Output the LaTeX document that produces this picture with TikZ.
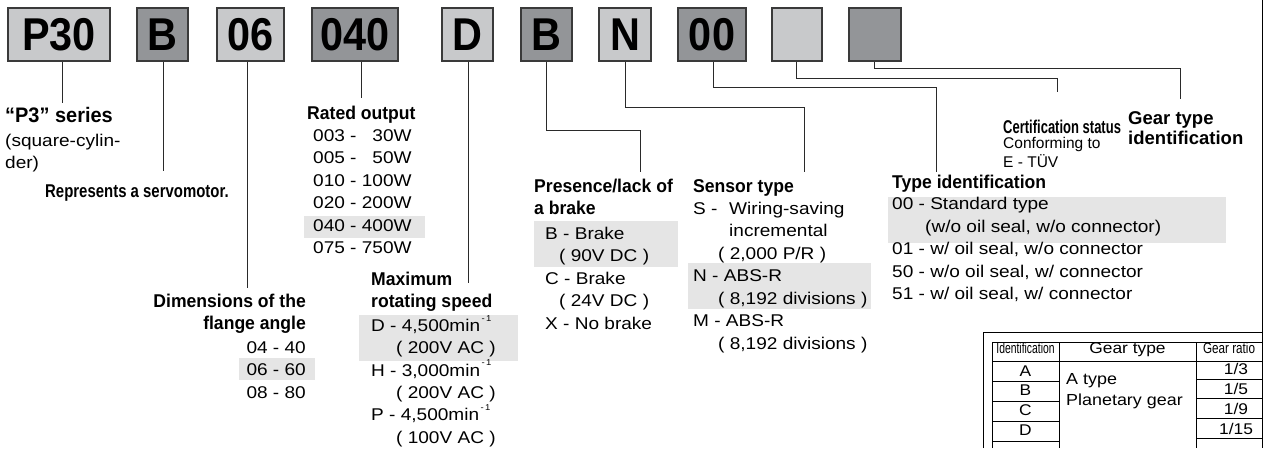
\documentclass[tikz,border=0pt]{standalone}
\usepackage{fontspec}
\usepackage{graphicx}
\setmainfont{Liberation Sans}
\newfontfamily\bodyff{Liberation Sans}[FakeStretch=1.12]
\newfontfamily\headff{Liberation Sans}[FakeStretch=0.95]
\newfontfamily\boxff{Liberation Sans}[FakeStretch=0.9]
\newfontfamily\idff{Liberation Sans}[FakeStretch=0.69]
\newfontfamily\ratff{Liberation Sans}[FakeStretch=0.78]
\newfontfamily\plainff{Liberation Sans}
\definecolor{lightbox}{HTML}{C8C9CB}
\definecolor{darkbox}{HTML}{939598}
\definecolor{boxline}{HTML}{3A3A3A}
\definecolor{hlgray}{HTML}{E5E5E5}
\definecolor{connline}{HTML}{2A2A2A}
\newcommand\minsup{min\raisebox{0.6em}{\fontsize{8.5}{8.5}\selectfont\,-\,1}}
\tikzset{
  codebox/.style={draw=boxline, line width=1.1pt, inner sep=0pt, minimum height=53pt,
    font=\boxff\bfseries\fontsize{46}{46}\selectfont},
  lightfill/.style={fill=lightbox},
  darkfill/.style={fill=darkbox},
  body/.style={anchor=base west, inner sep=0pt, font=\bodyff\fontsize{17}{20}\selectfont},
  bodyr/.style={body, anchor=base east},
  head/.style={anchor=base west, inner sep=0pt, font=\headff\bfseries\fontsize{18.5}{22}\selectfont},
  headr/.style={head, anchor=base east},
  hl/.style={fill=hlgray, draw=none},
  conn/.style={draw=connline, line width=0.9pt},
  frameline/.style={draw=black, line width=0.9pt},
  tabline/.style={draw=black, line width=0.8pt},
  tabtext/.style={inner sep=0pt, anchor=base, font=\bodyff\fontsize{15.5}{18}\selectfont},
}
\begin{document}
\begin{tikzpicture}[x=1pt,y=-1pt]
\useasboundingbox (0,0) rectangle (1263,448);

% highlights
\path[hl] (304,216) rectangle (425,238);
\path[hl] (239,358) rectangle (315,380);
\path[hl] (359,315) rectangle (518,361);
\path[hl] (534,221) rectangle (678,267);
\path[hl] (688,263) rectangle (871,309);
\path[hl] (888,197) rectangle (1226,243);

% code boxes
\node[codebox, lightfill, minimum width=102pt] (p30) at (59,34.5) {P30};
\node[codebox, darkfill, minimum width=51pt] (bsv) at (162.5,34.5) {B};
\node[codebox, lightfill, minimum width=67pt] (dim) at (250.5,34.5) {06};
\node[codebox, darkfill, minimum width=86pt] (out) at (355,34.5) {040};
\node[codebox, lightfill, minimum width=51pt] (spd) at (467.5,34.5) {D};
\node[codebox, darkfill, minimum width=51pt] (brk) at (546.5,34.5) {B};
\node[codebox, lightfill, minimum width=52pt] (sen) at (625,34.5) {N};
\node[codebox, darkfill, minimum width=68pt] (typ) at (712,34.5) {00};
\node[codebox, lightfill, minimum width=50pt] (cer) at (797,34.5) {};
\node[codebox, darkfill, minimum width=52pt] (gear) at (875,34.5) {};

% connector end points
\coordinate (e1) at (62,103);
\coordinate (e2) at (163,171);
\coordinate (e3) at (247,288);
\coordinate (e4) at (361,98);
\coordinate (e5) at (468,283);
\coordinate (k6) at (546,130);
\coordinate (e6) at (640,172);
\coordinate (k7) at (625,107);
\coordinate (e7) at (804,172);
\coordinate (k8) at (713,87);
\coordinate (e8) at (936,172);
\coordinate (k9) at (796,78);
\coordinate (e9) at (1057,92);
\coordinate (k10) at (874,68);
\coordinate (e10) at (1180,99);

\draw[conn] (p30.south -| e1) -- (e1);
\draw[conn] (bsv.south -| e2) -- (e2);
\draw[conn] (dim.south -| e3) -- (e3);
\draw[conn] (out.south -| e4) -- (e4);
\draw[conn] (spd.south -| e5) -- (e5);
\draw[conn] (brk.south -| k6) -- (k6) -| (e6);
\draw[conn] (sen.south -| k7) -- (k7) -| (e7);
\draw[conn] (typ.south -| k8) -- (k8) -| (e8);
\draw[conn] (cer.south -| k9) -- (k9) -| (e9);
\draw[conn] (gear.south -| k10) -- (k10) -| (e10);

% P3 series
\node[head, font=\headff\bfseries\fontsize{21}{24}\selectfont] (h1) at (5,122) {“P3” series};
\node[body] (t11) at (5,146) {(square-cylin-};
\node[body] (t12) at (5,168) {der)};

% servomotor
\node[head] (h2) at (45,197) {\scalebox{0.85}[1]{Represents a servomotor.}};

% rated output
\node[head] (h3) at (307,119) {Rated output};
\node[body] (t31) at (313,141) {003 - \phantom{1}30W};
\node[body] (t32) at (313,163.5) {005 - \phantom{1}50W};
\node[body] (t33) at (313,186) {010 - 100W};
\node[body] (t34) at (313,208.5) {020 - 200W};
\node[body] (t35) at (313,231) {040 - 400W};
\node[body] (t36) at (313,253.5) {075 - 750W};

% dimensions
\node[headr] (h4a) at (306,307) {Dimensions of the};
\node[headr] (h4b) at (306,329.5) {flange angle};
\node[bodyr] (t41) at (306,353) {04 - 40};
\node[bodyr] (t42) at (306,375.5) {06 - 60};
\node[bodyr] (t43) at (306,398) {08 - 80};

% maximum rotating speed
\node[head] (h5a) at (371,285) {Maximum};
\node[head] (h5b) at (371,307.5) {rotating speed};
\node[body] (t51) at (371,331.5) {D - 4,500\minsup};
\node[body] (t52) at (396,353.5) {( 200V AC )};
\node[body] (t53) at (371,376) {H - 3,000\minsup};
\node[body] (t54) at (396,398.5) {( 200V AC )};
\node[body] (t55) at (371,420.5) {P - 4,500\minsup};
\node[body] (t56) at (396,443) {( 100V AC )};

% brake
\node[head] (h6a) at (534,192) {Presence/lack of};
\node[head] (h6b) at (534,214.5) {a brake};
\node[body] (t61) at (545,239) {B - Brake};
\node[body] (t62) at (559,261.5) {( 90V DC )};
\node[body] (t63) at (545,284) {C - Brake};
\node[body] (t64) at (559,306.5) {( 24V DC )};
\node[body] (t65) at (545,329) {X - No brake};

% sensor
\node[head] (h7) at (693,192) {Sensor type};
\node[body] (t71) at (693,214) {S -};
\node[body] (t72) at (729,214) {Wiring-saving};
\node[body] (t73) at (729,236.5) {incremental};
\node[body] (t74) at (718,259) {( 2,000 P/R )};
\node[body] (t75) at (693,281.5) {N - ABS-R};
\node[body] (t76) at (718,304) {( 8,192 divisions )};
\node[body] (t77) at (693,326.5) {M - ABS-R};
\node[body] (t78) at (718,349) {( 8,192 divisions )};

% type identification
\node[head] (h8) at (892,188) {Type identification};
\node[body] (t81) at (892,209.5) {00 - Standard type};
\node[body] (t82) at (925,232) {(w/o oil seal, w/o connector)};
\node[body] (t83) at (892,254.5) {01 - w/ oil seal, w/o connector};
\node[body] (t84) at (892,277) {50 - w/o oil seal, w/ connector};
\node[body] (t85) at (892,299.5) {51 - w/ oil seal, w/ connector};

% certification
\node[head] (h9) at (1003,133) {\scalebox{0.74}[1]{Certification status}};
\node[body, font=\plainff\fontsize{15.5}{18}\selectfont] (t91) at (1003,148.5) {Conforming to};
\node[body, font=\plainff\fontsize{15.5}{18}\selectfont] (t92) at (1003,167) {E - TÜV};

% gear type identification
\node[head, font=\plainff\bfseries\fontsize{18.5}{22}\selectfont] (h10a) at (1128,124) {Gear type};
\node[head, font=\plainff\bfseries\fontsize{18.5}{22}\selectfont] (h10b) at (1128,144) {identification};

% frame and table
\draw[frameline] (1262,0) -- (1262,448);
\draw[frameline] (983,448) -- (983,332) -- (1262,332);
\draw[tabline] (992,448) -- (992,342) -- (1262,342);
\draw[tabline] (1059,342) -- (1059,448);
\draw[tabline] (1196,342) -- (1196,448);
\draw[tabline] (992,361) -- (1262,361);
\foreach \yy in {381,401,421,441} \draw[tabline] (992,\yy) -- (1059,\yy);
\foreach \yy in {379,398.5,418,438} \draw[tabline] (1196,\yy) -- (1262,\yy);

\node[tabtext, font=\idff\fontsize{15}{18}\selectfont] (c11) at (1025.5,353) {Identification};
\node[tabtext] (c12) at (1127.5,353) {Gear type};
\node[tabtext, font=\ratff\fontsize{15}{18}\selectfont] (c13) at (1229,353) {Gear ratio};
\node[tabtext] (ra) at (1025.5,376) {A};
\node[tabtext] (rb) at (1025.5,395.5) {B};
\node[tabtext] (rc) at (1025.5,415.5) {C};
\node[tabtext] (rd) at (1025.5,435.5) {D};
\node[body, font=\bodyff\fontsize{16}{19}\selectfont] (ga) at (1066,384) {A type};
\node[body, font=\bodyff\fontsize{16}{19}\selectfont] (gb) at (1066,405) {Planetary gear};
\node[tabtext] (q1) at (1236,374) {1/3};
\node[tabtext] (q2) at (1236,394.5) {1/5};
\node[tabtext] (q3) at (1236,414) {1/9};
\node[tabtext] (q4) at (1236,434.5) {1/15};
\end{tikzpicture}
\end{document}
